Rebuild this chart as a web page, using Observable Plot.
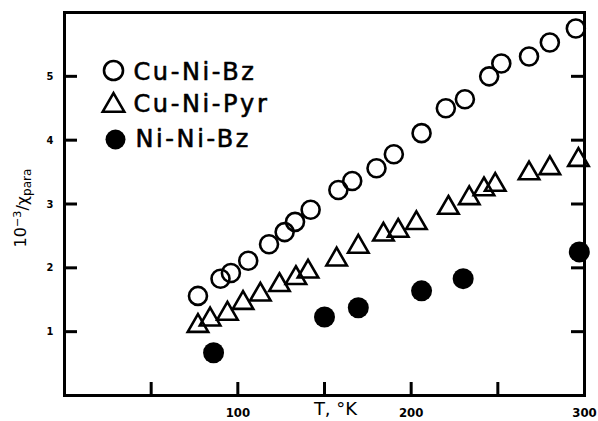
<!DOCTYPE html>
<html>
<head>
<meta charset="utf-8">
<script src="https://cdn.jsdelivr.net/npm/d3@7"></script>
<script src="https://cdn.jsdelivr.net/npm/@observablehq/plot@0.6"></script>
<style>
  html, body { margin: 0; padding: 0; background: #fff; }
  #chart svg { display: block; }
</style>
</head>
<body>
<div id="chart"></div>
<script>
// ---- data ----
const seriesNames = ["Cu-Ni-Bz", "Cu-Ni-Pyr", "Ni-Ni-Bz"];

const cuNiBzT = [77, 90, 96, 106, 118, 127, 133, 142, 158, 166, 180, 190, 206, 220, 231, 245, 252, 268, 280, 295];
const cuNiBzV = [1.56, 1.83, 1.92, 2.11, 2.37, 2.56, 2.72, 2.91, 3.22, 3.36, 3.56, 3.78, 4.11, 4.50, 4.64, 5.00, 5.20, 5.31, 5.53, 5.75];

const cuNiPyrT = [77, 84, 94, 103, 113, 124, 133.5, 140.5, 157, 169.5, 184, 192.5, 203, 221.5, 233.5, 242, 248.5, 268, 280, 296.5];
const cuNiPyrV = [1.09, 1.19, 1.28, 1.45, 1.58, 1.73, 1.84, 1.94, 2.13, 2.33, 2.52, 2.58, 2.70, 2.94, 3.09, 3.23, 3.30, 3.48, 3.56, 3.69];

const niNiBzT = [86, 150, 169.5, 206, 230, 297];
const niNiBzV = [0.67, 1.23, 1.375, 1.64, 1.83, 2.25];

const xTickMarks = [50, 100, 150, 200, 250];
const xTickLabels = [100, 200, 300];
const yTicks = [1, 2, 3, 4, 5];
const xLabel = "T, °K";
const yLabelParts = ["10", "−3", "/χ", "para"];

// ---- tables built from the arrays ----
const cuNiBz = cuNiBzT.map((t, i) => ({t, v: cuNiBzV[i]}));
const cuNiPyr = cuNiPyrT.map((t, i) => ({t, v: cuNiPyrV[i]}));
const niNiBz = niNiBzT.map((t, i) => ({t, v: niNiBzV[i]}));

const W = 598, H = 421, ML = 64, MR = 14, MT = 12, MB = 26;
const tickLen = 13;
const innerW = W - ML - MR, innerH = H - MT - MB;

const tickFont = "DejaVu Sans Condensed, DejaVu Sans, sans-serif";
const legendFont = "DejaVu Sans, sans-serif";
const fmt = d => String(d);

const plot = Plot.plot({
  width: W,
  height: H,
  marginLeft: ML,
  marginRight: MR,
  marginTop: MT,
  marginBottom: MB,
  x: {domain: [0, 300]},
  y: {domain: [0, 6]},
  style: {background: "white", color: "black"},
  marks: [
    Plot.frame({stroke: "black", strokeWidth: 3}),
    // inward tick marks
    Plot.tickX(xTickMarks, {x: d => d, insetTop: innerH - tickLen, stroke: "black", strokeWidth: 3}),
    Plot.tickY(yTicks, {y: d => d, insetRight: innerW - tickLen, stroke: "black", strokeWidth: 3}),
    Plot.tickY(yTicks, {y: d => d, insetLeft: innerW - tickLen, stroke: "black", strokeWidth: 3}),
    // tick labels
    Plot.axisX(xTickLabels, {anchor: "bottom", tickSize: 0, tickPadding: 12, label: null, tickFormat: fmt,
      fontSize: 13, fontWeight: "bold", fontFamily: tickFont}),
    Plot.axisY(yTicks, {anchor: "left", tickSize: 0, tickPadding: 11, label: null, tickFormat: fmt,
      fontSize: 11, fontWeight: "bold", fontFamily: tickFont}),

    // data
    Plot.dot(cuNiBz, {x: "t", y: "v", r: 9, stroke: "black", strokeWidth: 2.6, fill: "none"}),
    Plot.dot(cuNiPyr, {x: "t", y: "v", r: 7.6, symbol: "triangle", stroke: "black", strokeWidth: 2.6, fill: "none"}),
    Plot.dot(niNiBz, {x: "t", y: "v", r: 10.5, fill: "black", stroke: "none"}),

    // legend
    Plot.dot([seriesNames[0]], {frameAnchor: "top-left", dx: 49, dy: 58, r: 9.5, stroke: "black", strokeWidth: 2.6, fill: "none"}),
    Plot.dot([seriesNames[1]], {frameAnchor: "top-left", dx: 49, dy: 93, r: 8, symbol: "triangle", stroke: "black", strokeWidth: 2.6, fill: "none"}),
    Plot.dot([seriesNames[2]], {frameAnchor: "top-left", dx: 51, dy: 127, r: 10, fill: "black", stroke: "none"}),
    Plot.text([seriesNames[0]], {frameAnchor: "top-left", dx: 69, dy: 60, textAnchor: "start", lineAnchor: "middle",
      fontSize: 24, fontFamily: legendFont, stroke: "black", strokeWidth: 0.6, fill: "black"}),
    Plot.text([seriesNames[1]], {frameAnchor: "top-left", dx: 69, dy: 92, textAnchor: "start", lineAnchor: "middle",
      fontSize: 24, fontFamily: legendFont, stroke: "black", strokeWidth: 0.6, fill: "black"}),
    Plot.text([seriesNames[2]], {frameAnchor: "top-left", dx: 71, dy: 127, textAnchor: "start", lineAnchor: "middle",
      fontSize: 24, fontFamily: legendFont, stroke: "black", strokeWidth: 0.6, fill: "black"}),

    // axis titles
    Plot.text([xLabel], {frameAnchor: "bottom", dx: 11, dy: 14, textAnchor: "middle", lineAnchor: "middle",
      fontSize: 18, fontFamily: "DejaVu Sans, sans-serif"}),
    Plot.text([yLabelParts.join("")], {frameAnchor: "left", dx: -44, dy: 4, rotate: -90, textAnchor: "middle", lineAnchor: "middle",
      fontSize: 16, fontFamily: "DejaVu Sans, sans-serif"})
  ]
});

// legend letter spacing and y-label super/subscripts
const svg = d3.select(plot);
svg.selectAll("text").filter(function () { return seriesNames.includes(this.textContent); })
  .attr("letter-spacing", 2.6);
svg.selectAll("text").filter(function () { return this.textContent === yLabelParts.join(""); })
  .each(function () {
    const t = d3.select(this);
    t.text(null);
    t.append("tspan").text(yLabelParts[0]);
    t.append("tspan").attr("dy", "-0.45em").attr("font-size", "0.7em").text(yLabelParts[1]);
    t.append("tspan").attr("dy", "0.45em").text(yLabelParts[2]);
    t.append("tspan").attr("dy", "0.3em").attr("font-size", "0.75em").text(yLabelParts[3]);
  });

document.getElementById("chart").appendChild(plot);
</script>
</body>
</html>
